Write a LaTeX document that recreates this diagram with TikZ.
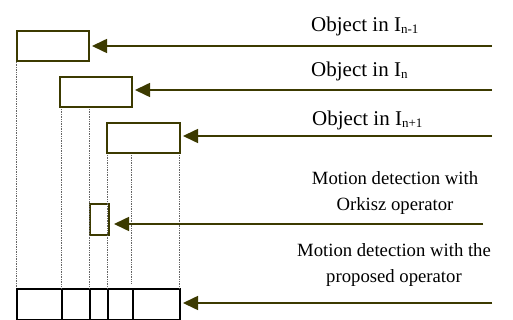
\documentclass[tikz,border=0pt]{standalone}
\usepackage{fontspec}
\setmainfont{Liberation Serif}
\usepackage{tikz}
\usetikzlibrary{arrows.meta, positioning, calc}

\definecolor{olivedark}{RGB}{60,58,0}
\newcommand{\lowidx}[1]{\raisebox{-2pt}{\fontsize{13}{13}\selectfont #1}}

\begin{document}
\begin{tikzpicture}[
  x=1pt,y=-1pt,
  >={Triangle[length=15pt,width=14pt]},
  frame/.style={draw=olivedark,line width=2pt,inner sep=0pt,anchor=north west,minimum height=30pt},
  cell/.style={draw=black,line width=2pt,inner sep=0pt,anchor=north west,minimum height=31pt},
  feed/.style={->,draw=olivedark,fill=olivedark,line width=1.6pt,shorten >=2pt},
  guide/.style={gray!80!black,densely dotted,line width=0.7pt},
  objtext/.style={font=\fontsize{21}{24}\selectfont,inner sep=0pt,anchor=base west},
  mottext/.style={font=\fontsize{18.7}{26}\selectfont,inner sep=0pt,align=center,anchor=base}
]
\useasboundingbox (0,0) rectangle (513,320);

% ----- Object frames -------------------------------------------------------
\node[frame,minimum width=72pt] (prev)   at (16,30)  {};
\node[frame,minimum width=72pt] (curr)   at (59,76)  {};
\node[frame,minimum width=73pt] (next)   at (106,122) {};
\node[frame,minimum width=19pt,minimum height=31pt] (orkisz) at (89,203) {};

% ----- Proposed operator bar -----------------------------------------------
\node[cell,minimum width=45pt] (c1) at (16,288)  {};
\node[cell,minimum width=28pt] (c2) at (61,288)  {};
\node[cell,minimum width=18pt] (c3) at (89,288)  {};
\node[cell,minimum width=25pt] (c4) at (107,288) {};
\node[cell,minimum width=47pt] (c5) at (132,288) {};

% ----- Dotted guides -------------------------------------------------------
\draw[guide] (16,62)   -- (16,288);
\draw[guide] (61,109)  -- (61,288);
\draw[guide] (89,109)  -- (89,288);
\draw[guide] (107,155) -- (107,288);
\draw[guide] (131,155) -- (131,284);
\draw[guide] (179,155) -- (179,288);

% ----- Labels --------------------------------------------------------------
\node[objtext] (lprev) at (311,32)  {Object in I\lowidx{n-1}};
\node[objtext] (lcurr) at (311,77)  {Object in I\lowidx{n}};
\node[objtext] (lnext) at (312,126) {Object in I\lowidx{n+1}};
\node[mottext] (lork)  at (395,211) {Motion detection with\\Orkisz operator};
\node[mottext] (lprop) at (394,282) {Motion detection with the\\proposed operator};

% ----- Arrows --------------------------------------------------------------
\coordinate (sprev) at (492,46);
\coordinate (scurr) at (492,90);
\coordinate (snext) at (492,136);
\coordinate (sork)  at (483,224);
\coordinate (sprop) at (492,303);

\draw[feed] (sprev) -- (sprev -| prev.east);
\draw[feed] (scurr) -- (scurr -| curr.east);
\draw[feed] (snext) -- (snext -| next.east);
\draw[feed,shorten >=4pt] (sork) -- (sork -| orkisz.east);
\draw[feed] (sprop) -- (sprop -| c5.east);

\end{tikzpicture}
\end{document}
